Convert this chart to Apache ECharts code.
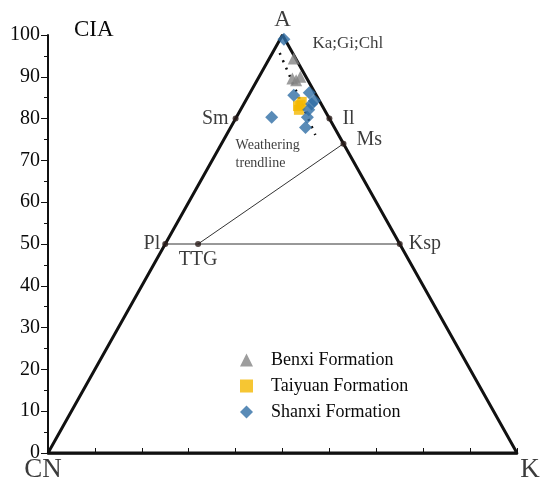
<!DOCTYPE html>
<html>
<head>
<meta charset="utf-8">
<script src="https://cdn.jsdelivr.net/npm/echarts@6/dist/echarts.min.js"></script>
<style>
  html, body { margin: 0; padding: 0; background: #fff; }
  #chart { width: 550px; height: 494px; }
</style>
</head>
<body>
<div id="chart"></div>
<script>
// A-CN-K ternary drawn on a plain cartesian grid: y = CIA (A), x = K + A/2
const yTicks = [0, 10, 20, 30, 40, 50, 60, 70, 80, 90, 100]

const triangle = [[0, 0], [50, 100], [100, 0], [0, 0]]
const plKsp = [[25, 50], [75, 50]]
const ttgMs = [[32, 50], [63, 74]]
const trendline = [[49.4, 95.7], [57.0, 76.1]]

// mineral reference points [x, y, name]
const minerals = [
  [40, 80, 'Sm'],
  [60, 80, 'Il'],
  [63, 74, 'Ms'],
  [25, 50, 'Pl'],
  [32, 50, 'TTG'],
  [75, 50, 'Ksp']
]

const benxi = [[52.4, 94.4], [52.1, 89.6], [53.8, 90.0], [52.9, 89.2]]
const taiyuan = [[53.8, 83.3], [53.5, 82.1], [54.1, 84.0], [53.3, 83.0]]
const shanxi = [
  [50.3, 99.0], [52.4, 85.6], [55.7, 86.2], [56.2, 83.5], [56.8, 84.3],
  [55.6, 82.1], [55.3, 80.3], [54.9, 77.9], [47.7, 80.3]
]

// corner / note texts [x, y, text]
const notes = [
  [50, 100, 'A'],
  [0, 0, 'CN'],
  [100, 0, 'K'],
  [50, 100, 'Ka;Gi;Chl'],
  [40, 71.4, 'Weathering\ntrendline']
]

const serif = '"Liberation Serif", "DejaVu Serif", serif'
const ink = '#0a0a0a'

const mineralLabel = {
  Sm: { position: 'left', distance: 4 },
  Il: { position: 'right', distance: 10 },
  Ms: { position: 'right', distance: 10, offset: [0, -4] },
  Pl: { position: 'left', distance: 2 },
  TTG: { position: 'bottom', distance: 3 },
  Ksp: { position: 'right', distance: 6 }
}

const noteLabel = {
  'A': { position: 'top', distance: 4, fontSize: 23 },
  'CN': { position: 'bottom', distance: 3, fontSize: 27, offset: [-5, 0] },
  'K': { position: 'bottom', distance: 3, fontSize: 27, offset: [13, 0] },
  'Ka;Gi;Chl': { position: 'right', distance: 30, fontSize: 17, offset: [0, 9] },
  'Weathering\ntrendline': { position: 'right', distance: 0, fontSize: 14, lineHeight: 18 }
}

const chart = echarts.init(document.getElementById('chart'))

const lineSeries = (data, width, color, type) => ({
  type: 'line',
  data,
  silent: true,
  symbol: 'none',
  lineStyle: { color, width, type: type || 'solid' },
  z: 2
})

chart.setOption({
  backgroundColor: '#fff',
  animation: false,
  grid: { left: 48, right: 33, top: 35, bottom: 41 },
  legend: {
    orient: 'vertical',
    left: 235,
    top: 346,
    itemWidth: 13,
    itemHeight: 13,
    itemGap: 8,
    data: [
      { name: 'Benxi Formation', icon: 'triangle' },
      { name: 'Taiyuan Formation', icon: 'rect' },
      { name: 'Shanxi Formation', icon: 'diamond' }
    ],
    textStyle: { fontFamily: serif, fontSize: 18, color: ink, padding: [0, 0, 0, 13] }
  },
  xAxis: {
    type: 'value',
    min: 0, max: 100, interval: 10,
    axisLine: { lineStyle: { color: '#111', width: 2.5 } },
    axisTick: { inside: true, length: 5, lineStyle: { color: '#111', width: 1 } },
    axisLabel: { show: false },
    splitLine: { show: false }
  },
  yAxis: {
    type: 'value',
    min: yTicks[0], max: yTicks[yTicks.length - 1], interval: 10,
    name: 'CIA',
    nameLocation: 'end',
    nameGap: 5,
    nameTextStyle: { fontFamily: serif, fontSize: 23, color: ink, align: 'left', verticalAlign: 'middle', padding: [0, 0, 0, 26] },
    axisLine: { show: true, lineStyle: { color: '#111', width: 2 } },
    axisTick: { length: 7, lineStyle: { color: '#111', width: 1 } },
    minorTick: { show: true, splitNumber: 2, length: 4, lineStyle: { color: '#111' } },
    axisLabel: { fontFamily: serif, fontSize: 20, color: ink, margin: 8 },
    splitLine: { show: false }
  },
  series: [
    lineSeries(triangle, 3, '#111'),
    lineSeries(plKsp, 1, '#333'),
    lineSeries(ttgMs, 1, '#333'),
    lineSeries(trendline, 2.5, '#111', [2, 6]),
    {
      type: 'scatter',
      silent: true,
      symbol: 'circle',
      symbolSize: 6,
      itemStyle: { color: '#2b1d1a' },
      data: minerals.map(m => ({
        value: [m[0], m[1]],
        label: Object.assign({ show: true, formatter: m[2], fontFamily: serif, fontSize: 20, color: ink }, mineralLabel[m[2]])
      })),
      z: 3
    },
    {
      type: 'scatter',
      silent: true,
      symbolSize: 0,
      data: notes.map(n => ({
        value: [n[0], n[1]],
        label: Object.assign({ show: true, formatter: n[2], fontFamily: serif, color: ink }, noteLabel[n[2]])
      })),
      z: 3
    },
    {
      name: 'Benxi Formation',
      type: 'scatter',
      symbol: 'triangle',
      symbolSize: 12,
      itemStyle: { color: '#858585' },
      data: benxi,
      z: 4
    },
    {
      name: 'Taiyuan Formation',
      type: 'scatter',
      symbol: 'rect',
      symbolSize: 10,
      itemStyle: { color: '#f4b800' },
      data: taiyuan,
      z: 4
    },
    {
      name: 'Shanxi Formation',
      type: 'scatter',
      symbol: 'diamond',
      symbolSize: 13,
      itemStyle: { color: '#2f6ea5' },
      data: shanxi,
      z: 5
    }
  ]
})
</script>
</body>
</html>
